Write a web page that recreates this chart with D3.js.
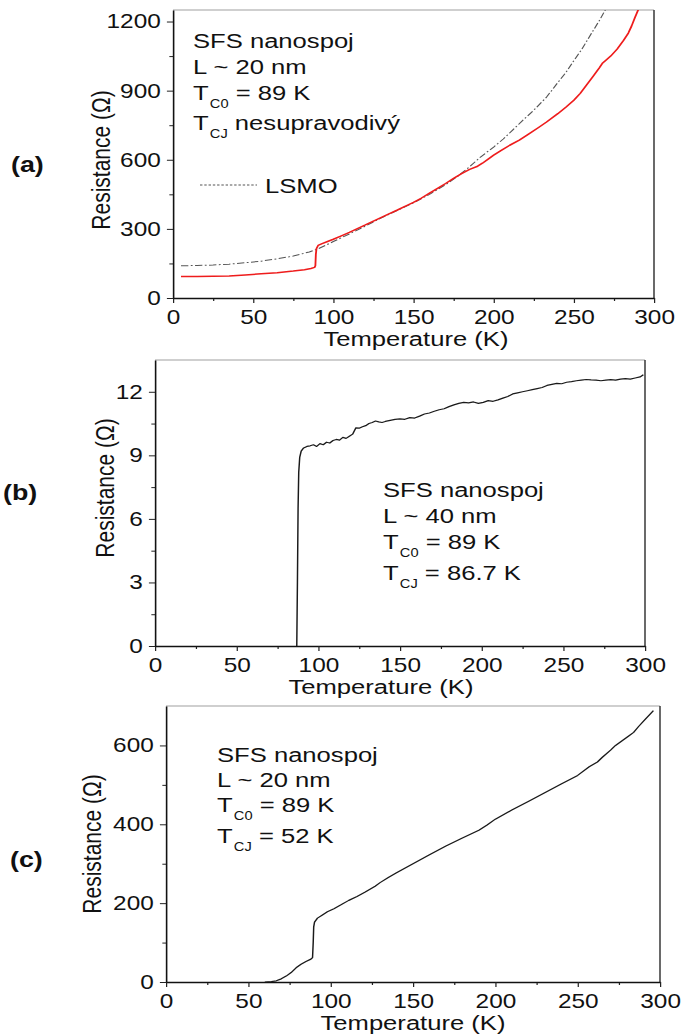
<!DOCTYPE html>
<html>
<head>
<meta charset="utf-8">
<script src="https://cdn.jsdelivr.net/npm/d3@7"></script>
<style>
html, body { margin: 0; padding: 0; background: #fff; }
svg { display: block; }
text { font-family: "Liberation Sans", Arial, sans-serif; fill: #111; }
</style>
</head>
<body>
<div id="fig"></div>
<script>
// ---- panel (a): SFS nanospoj L ~ 20 nm (red) + LSMO reference (dash-dot)
const tempA = [5, 15, 25, 35, 45, 55, 65, 75, 82, 86, 88.3, 88.8, 89.1, 89.5, 90.5, 93, 96, 100, 105, 110, 115, 120, 125, 130, 135, 140, 145, 150, 155, 160, 165, 170, 175, 180, 185, 190, 193, 197, 200, 205, 210, 216, 222, 228, 233, 240, 245, 250, 254, 258, 262, 266, 268, 270, 273, 277, 281, 284, 286, 288, 291];
const resA = [93, 93, 94, 96, 100, 105, 110, 117, 123, 128, 133, 140, 190, 215, 228, 236, 244, 255, 270, 285, 301, 317, 334, 350, 366, 382, 399, 415, 434, 455, 476, 497, 519, 540, 558, 572, 585, 605, 620, 642, 663, 685, 712, 740, 764, 800, 828, 858, 888, 925, 962, 1000, 1020, 1032, 1050, 1080, 1118, 1150, 1180, 1215, 1265];
const tempLsmo = [5, 15, 25, 35, 45, 55, 65, 75, 85, 90, 95, 100, 110, 120, 130, 140, 150, 160, 170, 177, 185, 192, 200, 206, 212, 218, 225, 233, 240, 245, 250, 255, 262, 266, 270];
const resLsmo = [140, 141, 143, 147, 153, 160, 170, 182, 200, 212, 228, 245, 278, 312, 348, 381, 413, 450, 492, 525, 570, 613, 655, 690, 730, 770, 815, 872, 935, 978, 1030, 1080, 1160, 1205, 1255];

// ---- panel (b): L ~ 40 nm
const tempB = [86.8, 87.2, 87.6, 88.0, 88.6, 89.5, 91, 93, 95, 97, 99, 101, 103, 105, 107, 109, 111, 113, 115, 117, 119, 121, 123, 125, 127, 129, 131, 133, 135, 137, 139, 141, 144, 147, 150, 153, 156, 159, 162, 165, 168, 171, 174, 177, 180, 183, 186, 189, 192, 195, 198, 201, 204, 207, 210, 213, 216, 219, 222, 225, 228, 231, 234, 237, 240, 243, 246, 249, 252, 255, 258, 261, 264, 267, 270, 273, 276, 279, 282, 285, 288, 291, 294, 297, 299];
const resB = [0, 3, 6.5, 8.2, 8.9, 9.2, 9.35, 9.42, 9.45, 9.5, 9.42, 9.55, 9.5, 9.62, 9.58, 9.7, 9.75, 9.72, 9.85, 9.8, 9.9, 10.0, 10.3, 10.28, 10.35, 10.4, 10.5, 10.55, 10.62, 10.58, 10.55, 10.6, 10.65, 10.7, 10.72, 10.7, 10.78, 10.76, 10.85, 10.95, 11.0, 11.08, 11.15, 11.2, 11.3, 11.38, 11.45, 11.5, 11.48, 11.52, 11.45, 11.5, 11.58, 11.55, 11.62, 11.7, 11.78, 11.9, 11.95, 12.0, 12.05, 12.1, 12.15, 12.2, 12.3, 12.35, 12.4, 12.38, 12.45, 12.48, 12.52, 12.55, 12.58, 12.56, 12.55, 12.52, 12.55, 12.57, 12.55, 12.6, 12.62, 12.6, 12.65, 12.7, 12.8];

// ---- panel (c): L ~ 20 nm
const tempC = [60, 64, 67, 70, 73, 76, 79, 82, 85, 88, 89, 89.4, 89.7, 90.2, 92, 95, 98, 102, 106, 111, 116, 121, 127, 130, 135, 140, 150, 160, 170, 180, 190, 195, 200, 210, 220, 230, 240, 250, 257, 262, 265, 270, 273, 277, 281, 284, 287, 291, 296];
const resC = [0, 1, 3, 8, 15, 24, 36, 45, 52, 58, 62, 100, 140, 152, 162, 170, 178, 186, 195, 207, 217, 228, 243, 252, 265, 277, 300, 323, 345, 365, 385, 398, 413, 436, 458, 480, 502, 524, 546, 558, 570, 588, 600, 612, 624, 633, 648, 666, 688];

const xTicks = [0, 50, 100, 150, 200, 250, 300];
const xMinor = [25, 75, 125, 175, 225, 275];
const yTicksA = [0, 300, 600, 900, 1200], yMinorA = [150, 450, 750, 1050];
const yTicksB = [0, 3, 6, 9, 12], yMinorB = [1.5, 4.5, 7.5, 10.5];
const yTicksC = [0, 200, 400, 600], yMinorC = [100, 300, 500];

// the original figure is stretched sideways, so draw in a narrower space and stretch it
const SX = 1.22;
const W = 684, H = 1035;
const X = px => px / SX;

const svg = d3.select("#fig").append("svg")
    .attr("width", W)
    .attr("height", H)
    .attr("viewBox", `0 0 ${W / SX} ${H}`)
    .attr("preserveAspectRatio", "none");

function subLine(g, x, y, main, sub, rest) {
    const t = g.append("text").attr("x", x).attr("y", y).attr("font-size", 21);
    t.append("tspan").text(main);
    t.append("tspan").attr("font-size", 12).attr("dy", 8).attr("dx", 1).text(sub);
    t.append("tspan").attr("dy", -8).text(rest);
}

function panel(cfg) {
    const g = svg.append("g");
    const x = d3.scaleLinear().domain([0, 300]).range([X(cfg.left), X(cfg.right)]);
    const y = d3.scaleLinear().domain([0, cfg.yMax]).range([cfg.bottom, cfg.top]);

    svg.append("clipPath").attr("id", "clip-" + cfg.id)
        .append("rect")
        .attr("x", x(0)).attr("y", cfg.top)
        .attr("width", x(300) - x(0)).attr("height", cfg.bottom - cfg.top);

    // frame: light top, dark right
    g.append("line")
        .attr("x1", x(0)).attr("x2", x(300)).attr("y1", cfg.top).attr("y2", cfg.top)
        .attr("stroke", "#a0a0a0").attr("stroke-width", 1.2);
    g.append("line")
        .attr("x1", x(300)).attr("x2", x(300)).attr("y1", cfg.top).attr("y2", cfg.bottom)
        .attr("stroke", "#333").attr("stroke-width", 1.2);

    // minor ticks
    g.append("g").attr("transform", `translate(0,${cfg.bottom})`)
        .call(d3.axisBottom(x).tickValues(xMinor).tickSize(3).tickFormat(""))
        .call(a => a.select(".domain").remove());
    g.append("g").attr("transform", `translate(${x(0)},0)`)
        .call(d3.axisLeft(y).tickValues(cfg.yMinor).tickSize(3).tickFormat(""))
        .call(a => a.select(".domain").remove());

    // major axes
    const xa = g.append("g").attr("transform", `translate(0,${cfg.bottom})`)
        .call(d3.axisBottom(x).tickValues(xTicks).tickSize(5).tickSizeOuter(0).tickPadding(7).tickFormat(d3.format("d")));
    const ya = g.append("g").attr("transform", `translate(${x(0)},0)`)
        .call(d3.axisLeft(y).tickValues(cfg.yTicks).tickSize(5).tickSizeOuter(0).tickPadding(5).tickFormat(d3.format("d")));
    [xa, ya].forEach(a => {
        a.attr("font-family", null).attr("font-size", null);
        a.selectAll("text").attr("font-size", 20).attr("fill", "#111");
        a.select(".domain").attr("stroke", "#111").attr("stroke-width", 1.3);
    });
    g.selectAll(".tick line").attr("stroke", "#222").attr("stroke-width", 1);

    // axis titles
    g.append("text")
        .attr("x", X(cfg.xTitleX)).attr("y", cfg.bottom + 48)
        .attr("text-anchor", "middle").attr("font-size", 21)
        .text("Temperature (K)");
    g.append("text")
        .attr("transform", `translate(${X(cfg.yTitleX)},${cfg.yTitleY}) rotate(-90)`)
        .attr("text-anchor", "middle").attr("font-size", 21)
        .text("Resistance (\u03A9)");

    // panel letter
    g.append("text")
        .attr("x", X(cfg.labX)).attr("y", cfg.labY)
        .attr("font-family", "Lato, 'Open Sans', sans-serif")
        .attr("font-weight", "bold").attr("font-size", 22)
        .text(cfg.label);

    const plot = g.append("g").attr("clip-path", `url(#clip-${cfg.id})`);
    cfg.series.forEach(s => {
        const line = d3.line().x(i => x(s.t[i])).y(i => y(s.r[i]));
        plot.append("path")
            .attr("d", line(d3.range(s.t.length)))
            .attr("fill", "none")
            .attr("stroke", s.color)
            .attr("stroke-width", s.width)
            .attr("stroke-dasharray", s.dash || null)
            .attr("stroke-linejoin", "round");
    });

    return { g, x, y };
}

// (a)
const pa = panel({
    id: "a", label: "(a)", labX: 11, labY: 172,
    left: 173, right: 654, top: 10, bottom: 298, yMax: 1250,
    yTicks: yTicksA, yMinor: yMinorA,
    xTitleX: 416, yTitleX: 110, yTitleY: 160,
    series: [
        { t: tempLsmo, r: resLsmo, color: "#555", width: 1, dash: "6,2,1.5,2" },
        { t: tempA, r: resA, color: "#ee1c1c", width: 1.5 }
    ]
});
pa.g.append("text").attr("x", X(193)).attr("y", 48).attr("font-size", 21).text("SFS nanospoj");
pa.g.append("text").attr("x", X(193)).attr("y", 74).attr("font-size", 21).text("L ~ 20 nm");
subLine(pa.g, X(193), 100, "T", "C0", " = 89 K");
subLine(pa.g, X(193), 130, "T", "CJ", " nesupravodivý");
pa.g.append("line")
    .attr("x1", X(200)).attr("x2", X(257)).attr("y1", 185).attr("y2", 185)
    .attr("stroke", "#555").attr("stroke-width", 1).attr("stroke-dasharray", "2,1.5");
pa.g.append("text").attr("x", X(265)).attr("y", 193).attr("font-size", 21).text("LSMO");

// (b)
const pb = panel({
    id: "b", label: "(b)", labX: 3, labY: 500,
    left: 155, right: 645, top: 360, bottom: 646, yMax: 13.5,
    yTicks: yTicksB, yMinor: yMinorB,
    xTitleX: 381, yTitleX: 114, yTitleY: 488,
    series: [{ t: tempB, r: resB, color: "#1a1a1a", width: 1.2 }]
});
pb.g.append("text").attr("x", X(383)).attr("y", 497).attr("font-size", 21).text("SFS nanospoj");
pb.g.append("text").attr("x", X(383)).attr("y", 523).attr("font-size", 21).text("L ~ 40 nm");
subLine(pb.g, X(383), 549, "T", "C0", " = 89 K");
subLine(pb.g, X(383), 580, "T", "CJ", " = 86.7 K");

// (c)
const pc = panel({
    id: "c", label: "(c)", labX: 10, labY: 867,
    left: 166, right: 660, top: 706, bottom: 982, yMax: 700,
    yTicks: yTicksC, yMinor: yMinorC,
    xTitleX: 413, yTitleX: 101, yTitleY: 844,
    series: [{ t: tempC, r: resC, color: "#1a1a1a", width: 1.2 }]
});
pc.g.append("text").attr("x", X(217)).attr("y", 762).attr("font-size", 21).text("SFS nanospoj");
pc.g.append("text").attr("x", X(217)).attr("y", 787).attr("font-size", 21).text("L ~ 20 nm");
subLine(pc.g, X(217), 812, "T", "C0", " = 89 K");
subLine(pc.g, X(217), 843, "T", "CJ", " = 52 K");
</script>
</body>
</html>
